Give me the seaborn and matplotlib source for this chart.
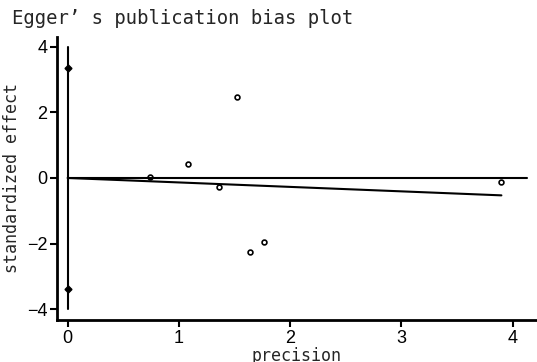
import matplotlib
matplotlib.use("Agg")
import matplotlib.pyplot as plt
import seaborn as sns
import pandas as pd

sns.set_theme(style="ticks")
plt.rcParams['font.family'] = ['Liberation Sans', 'DejaVu Sans']

# study points: precision vs standardized effect
precision = [0.74, 1.08, 1.36, 1.525, 1.64, 1.77, 3.90]
std_effect = [0.04, 0.43, -0.27, 2.47, -2.25, -1.96, -0.12]

# intercept confidence interval, shown at precision 0
ci_markers = [3.36, -3.39]
ci_line = [-4.0, 4.0]

# fitted regression line
fit_x = [0.0, 3.90]
fit_y = [0.0, -0.53]

# reference line at zero
ref_x = [0.0, 4.13]
ref_y = [0.0, 0.0]

df = pd.DataFrame({"precision": precision, "effect": std_effect})

fig = plt.figure(figsize=(5.37, 3.62), dpi=100)
ax = fig.add_axes([0.106, 0.116, 0.894, 0.782])

ax.plot([0, 0], ci_line, color="black", lw=1.5)
ax.plot(ref_x, ref_y, color="black", lw=1.5)
ax.plot(fit_x, fit_y, color="black", lw=1.5)
ax.plot([0, 0], ci_markers, linestyle="none", marker="D", markersize=3.5,
        color="black")
sns.scatterplot(data=df, x="precision", y="effect", ax=ax, marker="o", s=12,
                facecolor="white", edgecolor="black", linewidth=1.2)

ax.set_xlim(-0.096, 4.22)
ax.set_ylim(-4.33, 4.3)
ax.set_xticks([0, 1, 2, 3, 4])
ax.set_yticks([-4, -2, 0, 2, 4])
ax.tick_params(labelsize=13, length=5, width=1.5, colors="black", pad=2)
for s in ["top", "right"]:
    ax.spines[s].set_visible(False)
for s in ["left", "bottom"]:
    ax.spines[s].set_linewidth(2)
    ax.spines[s].set_color("black")

mono = ['DejaVu Sans Mono']
ax.set_xlabel("precision", fontsize=12, family=mono, labelpad=0)
ax.set_ylabel("standardized effect", fontsize=12, family=mono, labelpad=4)
fig.text(0.022, 0.975, "Egger’ s publication bias plot", fontsize=13.6,
         family=mono, va="top", ha="left")

fig.savefig("out.png", dpi=100, facecolor="white")
